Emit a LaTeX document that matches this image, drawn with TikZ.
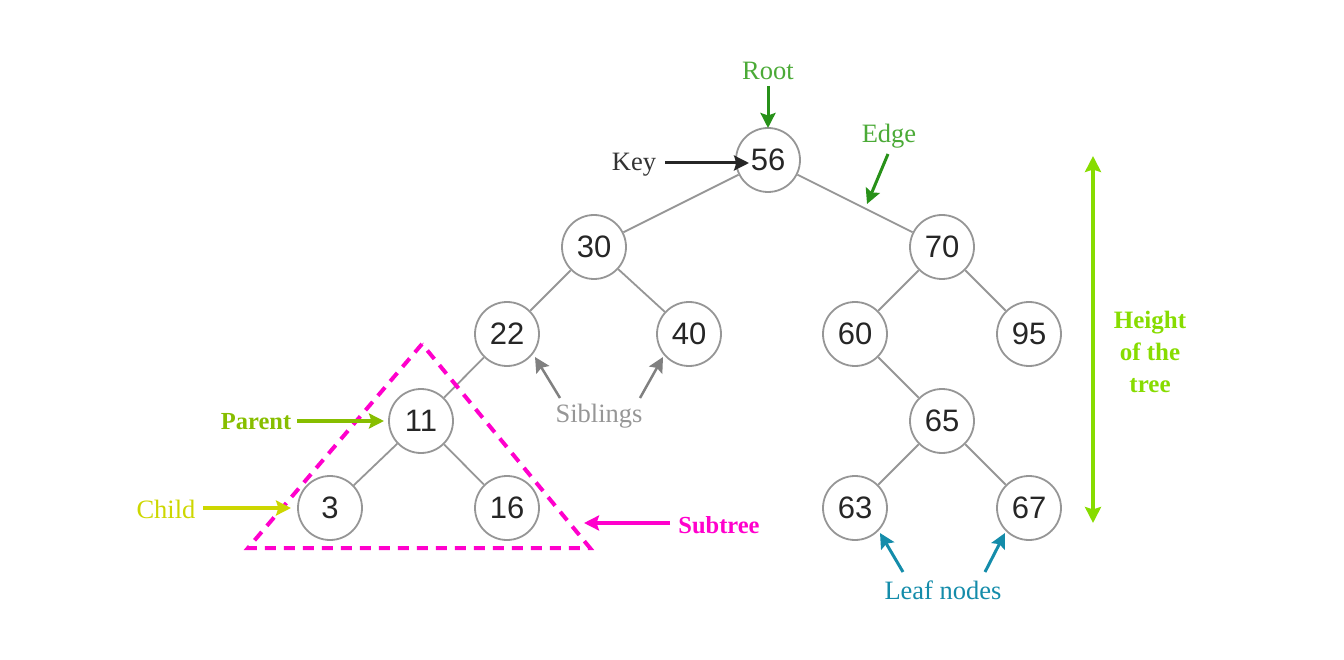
\documentclass[tikz,border=0pt]{standalone}
\usepackage{fontspec}
\setmainfont{Liberation Serif}
\newfontfamily\numfont{Liberation Sans}
\usetikzlibrary{arrows.meta}
\definecolor{edgegray}{RGB}{150,150,150}
\definecolor{rootgreen}{RGB}{40,145,25}
\definecolor{roottext}{RGB}{75,170,55}
\definecolor{parentcol}{RGB}{135,190,0}
\definecolor{childcol}{RGB}{205,215,0}
\definecolor{subcol}{RGB}{255,0,204}
\definecolor{sibcol}{RGB}{128,128,128}
\definecolor{sibtext}{RGB}{150,150,150}
\definecolor{leafcol}{RGB}{20,140,170}
\definecolor{heightcol}{RGB}{135,220,0}
\begin{document}
\begin{tikzpicture}[x=1pt,y=-1pt,
  tnode/.style={circle,draw=edgegray,line width=1.8pt,fill=white,minimum size=64pt,inner sep=0pt,
    font=\numfont\fontsize{31}{34}\selectfont,text=black!85},
  tedge/.style={draw=edgegray,line width=1.8pt},
  lbl/.style={font=\fontsize{26.5}{30}\selectfont,inner sep=0pt},
  blbl/.style={font=\bfseries\fontsize{24.5}{30}\selectfont,inner sep=0pt},
  parr/.style={line width=3pt,-{Stealth[length=15pt,width=15pt,inset=2.5pt]}},
]
\useasboundingbox (0,0) rectangle (1344,660);
% tree nodes
\node[tnode] (n56) at (768,160) {56};
\node[tnode] (n30) at (594,247) {30};
\node[tnode] (n70) at (942,247) {70};
\node[tnode] (n22) at (507,334) {22};
\node[tnode] (n40) at (689,334) {40};
\node[tnode] (n60) at (855,334) {60};
\node[tnode] (n95) at (1029,334) {95};
\node[tnode] (n11) at (421,421) {11};
\node[tnode] (n65) at (942,421) {65};
\node[tnode] (n3) at (330,508) {3};
\node[tnode] (n16) at (507,508) {16};
\node[tnode] (n63) at (855,508) {63};
\node[tnode] (n67) at (1029,508) {67};
% edges
\draw[tedge] (n56) -- (n30);
\draw[tedge] (n56) -- (n70);
\draw[tedge] (n30) -- (n22);
\draw[tedge] (n30) -- (n40);
\draw[tedge] (n70) -- (n60);
\draw[tedge] (n70) -- (n95);
\draw[tedge] (n22) -- (n11);
\draw[tedge] (n60) -- (n65);
\draw[tedge] (n11) -- (n3);
\draw[tedge] (n11) -- (n16);
\draw[tedge] (n65) -- (n63);
\draw[tedge] (n65) -- (n67);
% subtree triangle
\coordinate (tA) at (422,344);
\coordinate (tB) at (248,548);
\coordinate (tC) at (590,548);
\draw[subcol,line width=4pt,dash pattern=on 11pt off 8pt] (tA) -- (tB) -- (tC) -- cycle;
% Root
\node[lbl,text=roottext] (root) at (768,71) {Root};
\coordinate (rootS) at (768,86);
\coordinate (rootE) at (768,128);
\draw[parr,rootgreen] (rootS) -- (rootE);
% Key
\node[lbl,text=black!80] (key) at (634,165) {Key};
\coordinate (keyS) at (665,163);
\coordinate (keyE) at (749,163);
\draw[parr,black!85] (keyS) -- (keyE);
% Edge
\node[lbl,text=roottext] (edge) at (889,136) {Edge};
\coordinate (edgeS) at (888,154);
\coordinate (edgeE) at (867,204);
\draw[parr,rootgreen] (edgeS) -- (edgeE);
% Siblings
\node[lbl,text=sibtext] (sib) at (599,416) {Siblings};
\coordinate (sibS1) at (560,398);
\coordinate (sibS2) at (640,398);
\coordinate (sibE1) at (535,357);
\coordinate (sibE2) at (663,357);
\draw[parr,sibcol,line width=2.5pt] (sibS1) -- (sibE1);
\draw[parr,sibcol,line width=2.5pt] (sibS2) -- (sibE2);
% Parent
\node[blbl,text=parentcol] (parent) at (256,422) {Parent};
\coordinate (parS) at (297,421);
\coordinate (parE) at (384,421);
\draw[parr,parentcol,line width=4pt] (parS) -- (parE);
% Child
\node[lbl,text=childcol] (child) at (166,509) {Child};
\coordinate (chS) at (203,508);
\coordinate (chE) at (291,508);
\draw[parr,childcol,line width=4pt] (chS) -- (chE);
% Subtree
\node[blbl,text=subcol] (subtree) at (719,525) {Subtree};
\coordinate (stS) at (670,523);
\coordinate (stE) at (584,523);
\draw[parr,subcol,line width=4pt] (stS) -- (stE);
% Leaf nodes
\node[lbl,text=leafcol] (leaf) at (943,590) {Leaf nodes};
\coordinate (lfS1) at (903,572);
\coordinate (lfS2) at (985,572);
\coordinate (lfE1) at (880,533);
\coordinate (lfE2) at (1005,533);
\draw[parr,leafcol] (lfS1) -- (lfE1);
\draw[parr,leafcol] (lfS2) -- (lfE2);
% Height
\coordinate (hT) at (1093,156);
\coordinate (hB) at (1093,523);
\draw[heightcol,line width=3.5pt,{Stealth[length=16pt,width=16pt,inset=2.5pt]}-{Stealth[length=16pt,width=16pt,inset=2.5pt]}] (hT) -- (hB);
\node[blbl,text=heightcol,align=center,font=\bfseries\fontsize{25}{32}\selectfont] (height) at (1150,352) {Height\\of the\\tree};
\end{tikzpicture}
\end{document}
